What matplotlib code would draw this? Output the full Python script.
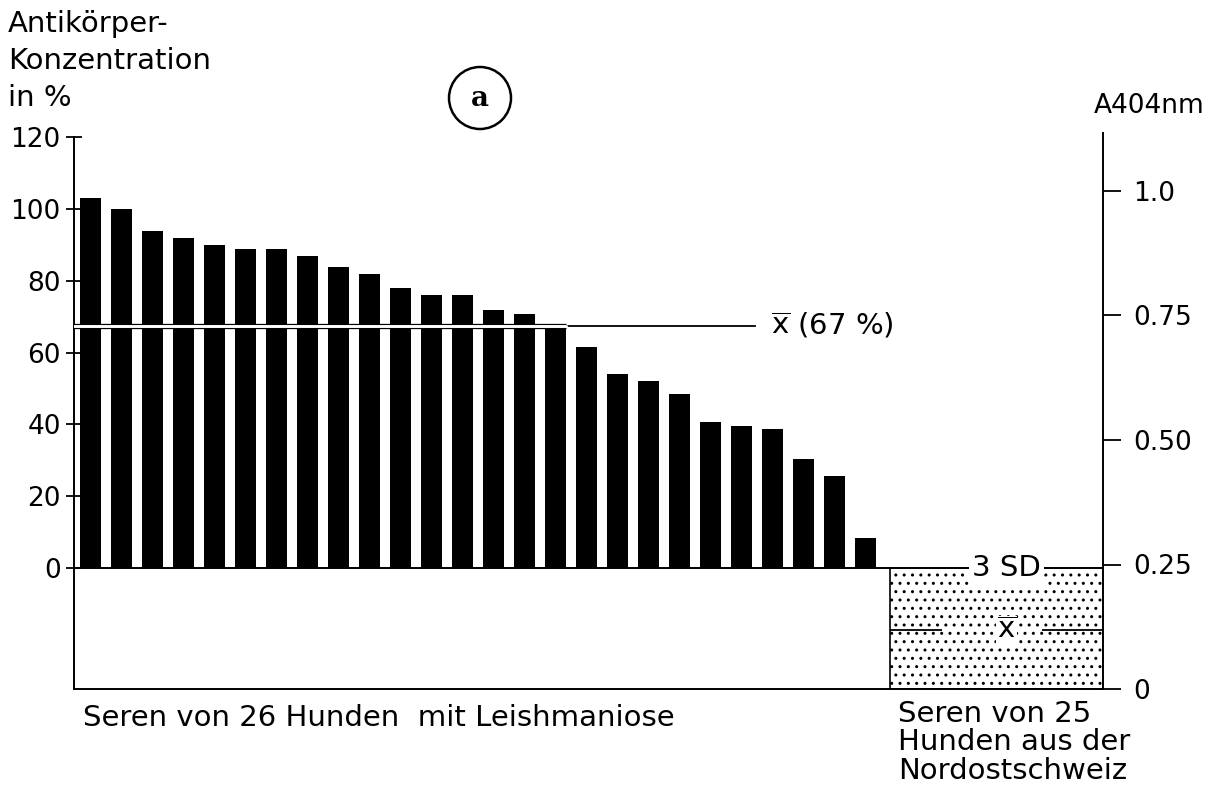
import matplotlib.pyplot as plt
from matplotlib.patches import Rectangle, Ellipse

# antibody concentration (%) of 26 sera from dogs with leishmaniosis
values = [103, 100, 94, 92, 90, 89, 89, 87, 84, 82, 78, 76, 76,
          72, 70.7, 67, 61.6, 54, 52, 48.5, 40.7, 39.5, 38.7, 30.4, 25.6, 8.4]
mean_pct = 67.5
left_ticks = [0, 20, 40, 60, 80, 100, 120]
right_ticks = [0, 0.25, 0.50, 0.75, 1.0]
right_labels = ['0', '0.25', '0.50', '0.75', '1.0']
# control group (25 sera, Nordostschweiz), A404nm
ctrl_mean = 0.118
ctrl_3sd = 0.25

W, H = 1205, 794
plt.rcParams['font.family'] = 'DejaVu Sans'
plt.rcParams['hatch.linewidth'] = 1.0
fig = plt.figure(figsize=(W / 100, H / 100), dpi=100)

def fx(px):
    return px / W

def fy(py):
    return 1 - py / H

ax = fig.add_axes([fx(74), fy(689), fx(1103) - fx(74), fy(133) - fy(689)])
ax.set_xlim(-0.532, 32.66)
ax.set_ylim(-33.7, 121.2)

ax.bar(range(len(values)), values, width=0.68, color='black', zorder=2)

# zero line
ax.axhline(0, color='black', lw=1.4, zorder=3)

# mean line: white through bars, black to the label
n_above = sum(v >= mean_pct - 1 for v in values)
bar_end = n_above - 1 + 0.34
ax.plot([-0.53, bar_end], [mean_pct, mean_pct], color='black', lw=3.8,
        solid_capstyle='butt', zorder=4)
ax.plot([-0.53, bar_end], [mean_pct, mean_pct], color='white', lw=2.1,
        solid_capstyle='round', zorder=5)
ax.plot([bar_end, 21.44], [mean_pct, mean_pct], color='black', lw=1.3, zorder=4)
ax.text(21.96, mean_pct, r'$\overline{\mathrm{x}}$ (67 %)', fontsize=21,
        va='center', ha='left')

# control box
box_x0, box_x1 = 25.79, 32.66
ax.add_patch(Rectangle((box_x0, -33.7), box_x1 - box_x0, 33.7,
                       facecolor='white', edgecolor='black', hatch='..',
                       lw=1.2, zorder=1))
ax.text(29.55, 0, '3 SD', fontsize=21, ha='center', va='center', zorder=6,
        bbox=dict(facecolor='white', edgecolor='none', pad=2))

for s in ['top', 'right']:
    ax.spines[s].set_visible(False)
ax.spines['left'].set_bounds(-33.7, 120)
ax.spines['left'].set_linewidth(1.4)
ax.spines['bottom'].set_linewidth(1.4)
ax.set_xticks([])
ax.set_yticks(left_ticks)
ax.tick_params(axis='y', direction='inout', length=11, width=1.3,
               labelsize=19, pad=4)

ax2 = ax.twinx()
ax2.set_ylim(0, 556 / 498)
ax2.hlines([ctrl_mean, ctrl_mean], [box_x0, 30.69], [27.48, box_x1],
           color='black', lw=1.3)
ax2.text(29.55, ctrl_mean, r'$\overline{\mathrm{x}}$', fontsize=21,
         ha='center', va='center',
         bbox=dict(facecolor='white', edgecolor='none', pad=0.5))
for s in ['top', 'left', 'bottom']:
    ax2.spines[s].set_visible(False)
ax2.spines['right'].set_linewidth(1.4)
ax2.set_yticks(right_ticks)
ax2.set_yticklabels(right_labels)
ax2.tick_params(axis='y', direction='out', length=13, width=1.3,
                labelsize=19, pad=9)

# texts
fig.text(fx(8), fy(10), 'Antikörper-\nKonzentration\nin %', fontsize=21,
         ha='left', va='top', linespacing=1.4)
fig.text(fx(1094), fy(106), 'A404nm', fontsize=19, ha='left', va='center')
fig.text(fx(83), fy(718), 'Seren von 26 Hunden  mit Leishmaniose', fontsize=21,
         ha='left', va='center')
fig.text(fx(898), fy(700), 'Seren von 25\nHunden aus der\nNordostschweiz',
         fontsize=21, ha='left', va='top', linespacing=1.02)

fig.patches.append(Ellipse((fx(480), fy(98)), 62 / W, 62 / H, fill=False,
                           edgecolor='black', lw=1.8,
                           transform=fig.transFigure))
fig.text(fx(480), fy(99), 'a', fontsize=20, fontweight='bold',
         family='DejaVu Serif', ha='center', va='center')

fig.savefig('out.png', dpi=100)
